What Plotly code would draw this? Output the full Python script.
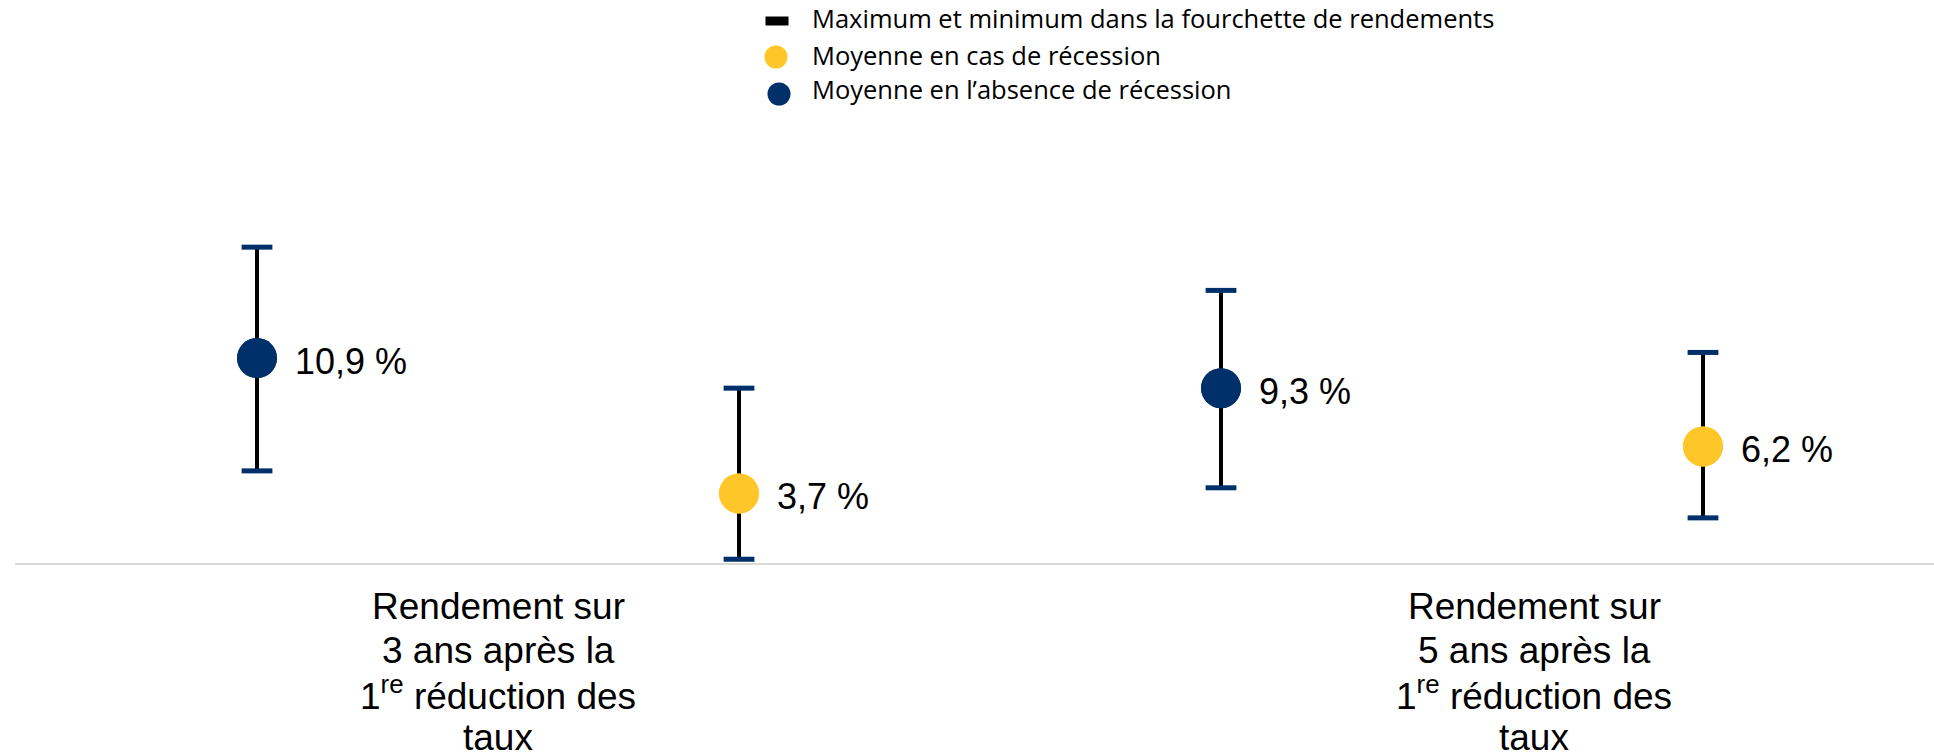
import plotly.graph_objects as go

# ---------------- data ----------------
categories = [
    ["Rendement sur", "3 ans après la", "1<sup>re</sup> réduction des", "taux"],
    ["Rendement sur", "5 ans après la", "1<sup>re</sup> réduction des", "taux"],
]
series_names = ["Moyenne en l’absence de récession", "Moyenne en cas de récession"]
range_name = "Maximum et minimum dans la fourchette de rendements"

# values per category for each series
no_rec_mean = [10.9, 9.3]
no_rec_max = [16.8, 14.5]
no_rec_min = [4.9, 4.0]

rec_mean = [3.7, 6.2]
rec_max = [9.3, 11.2]
rec_min = [0.2, 2.4]

# ---------------- styles ----------------
NAVY = "#003069"
YELLOW = "#FFC629"
BLACK = "#000000"
W, H = 1934, 755
ML, MR, MT, MB = 15, 0, 0, 192
PX_PER_UNIT = 18.8
PX_PER_SLOT = 482

plot_w = W - ML - MR
plot_h = H - MT - MB
first_pt_px = 257 - ML

x_lo = -first_pt_px / PX_PER_SLOT
x_hi = x_lo + plot_w / PX_PER_SLOT
y_hi = plot_h / PX_PER_UNIT

series = [
    (series_names[0], no_rec_mean, no_rec_max, no_rec_min, NAVY, 0),
    (series_names[1], rec_mean, rec_max, rec_min, YELLOW, 1),
]

fig = go.Figure()
annotations = []

for name, mean, mx, mn, color, si in series:
    xs = [2 * ci + si for ci in range(len(mean))]
    # stems (error bars) + mean markers
    fig.add_trace(go.Scatter(
        x=xs, y=mean, mode="markers", name=name, showlegend=False,
        marker=dict(size=40, color=color, line=dict(width=0)),
        error_y=dict(type="data", symmetric=False,
                     array=[a - b for a, b in zip(mx, mean)],
                     arrayminus=[b - c for b, c in zip(mean, mn)],
                     color=BLACK, thickness=4, width=0),
        cliponaxis=False,
    ))
    # caps
    fig.add_trace(go.Scatter(
        x=xs + xs, y=mx + mn, mode="markers", showlegend=False,
        marker=dict(symbol="line-ew", size=22, color=NAVY,
                    line=dict(width=5, color=NAVY)),
        hoverinfo="skip", cliponaxis=False,
    ))
    # re-draw mean markers on top of the caps/stems
    fig.add_trace(go.Scatter(
        x=xs, y=mean, mode="markers", showlegend=False,
        marker=dict(size=40, color=color, line=dict(width=0)),
        hoverinfo="skip", cliponaxis=False,
    ))
    for x, v in zip(xs, mean):
        annotations.append(dict(
            x=x, y=v, xref="x", yref="y", showarrow=False,
            text=f"{v:.1f}".replace(".", ",") + " %",
            xanchor="left", yanchor="middle", xshift=36, yshift=-3,
            font=dict(family="Liberation Sans, Arial", size=36, color=BLACK),
        ))

# category labels (one annotation per line to control spacing)
label_x = [0.5, 2.65]
LINE_H = 43.5
for ci, lines in enumerate(categories):
    for k, line in enumerate(lines):
        annotations.append(dict(
            x=label_x[ci], y=0, xref="x", yref="y", showarrow=False,
            text=line, xanchor="center", yanchor="middle",
            yshift=-(LINE_H * (k + 1)),
            font=dict(family="Liberation Sans, Arial", size=37, color=BLACK),
        ))

# custom legend
def px_to_paper_x(px):
    return (px - ML) / plot_w

def py_to_paper_y(py):
    return (H - MB - py) / plot_h

legend_items = [
    (range_name, "rect", BLACK, 777, 21, 18),
    (series_names[1], "circle", YELLOW, 776, 57, 55),
    (series_names[0], "circle", NAVY, 779, 94, 89),
]
shapes = []
for text, kind, color, cx, cy, ty in legend_items:
    if kind == "rect":
        hw, hh = 11.5, 4.5
    else:
        hw, hh = 11.5, 11.5
    shapes.append(dict(
        type=kind if kind == "circle" else "rect",
        xref="paper", yref="paper",
        xsizemode="pixel", ysizemode="pixel",
        xanchor=px_to_paper_x(cx), yanchor=py_to_paper_y(cy),
        x0=-hw, x1=hw, y0=-hh, y1=hh,
        fillcolor=color, line=dict(width=0),
    ))
    annotations.append(dict(
        x=px_to_paper_x(810), y=py_to_paper_y(ty), xref="paper", yref="paper",
        text=text, showarrow=False, xanchor="left", yanchor="middle",
        font=dict(family="Open Sans, sans-serif", size=25.5, color=BLACK),
    ))

fig.update_layout(
    width=W, height=H,
    margin=dict(l=ML, r=MR, t=MT, b=MB),
    paper_bgcolor="white", plot_bgcolor="white",
    xaxis=dict(range=[x_lo, x_hi], showgrid=False, zeroline=False,
               showticklabels=False, ticks="",
               showline=True, linecolor="#D9D9D9", linewidth=2),
    yaxis=dict(range=[0, y_hi], showgrid=False, zeroline=False,
               showticklabels=False, ticks="", showline=False),
    annotations=annotations,
    shapes=shapes,
    showlegend=False,
)

fig.write_html("out.html")
